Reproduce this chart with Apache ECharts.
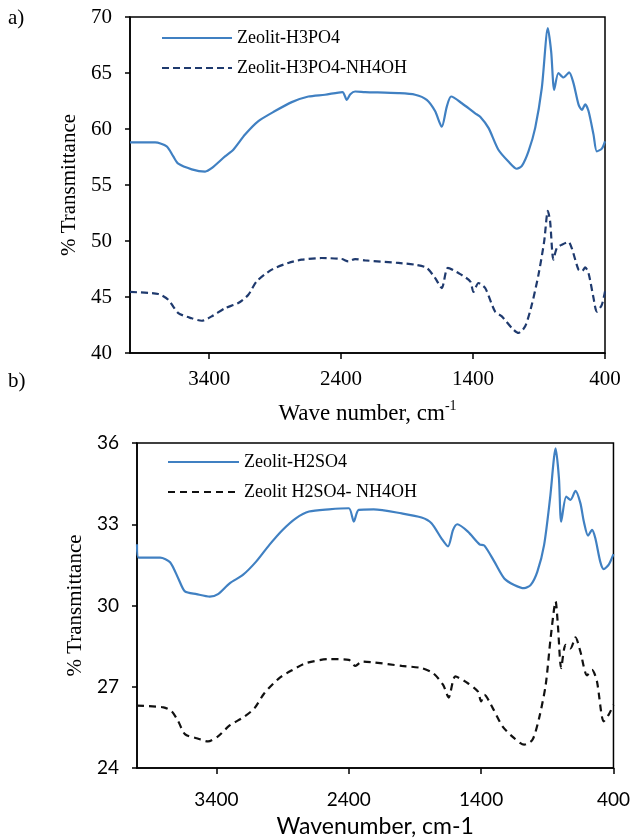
<!DOCTYPE html>
<html>
<head>
<meta charset="utf-8">
<script src="https://cdn.jsdelivr.net/npm/echarts@6/dist/echarts.min.js"></script>
<style>
  html, body { margin: 0; padding: 0; background: #fff; }
  #chart { width: 633px; height: 840px; }
</style>
</head>
<body>
<div id="chart"></div>
<script>
// ---- Tick labels ----
const xTicks = [400, 1400, 2400, 3400];

// ---- Panel a) ----
const seriesNameA1 = 'Zeolit-H3PO4';
const seriesNameA2 = 'Zeolit-H3PO4-NH4OH';
const wnA1 = [4000,3810,3722,3672,3634,3532,3431,3381,3280,3217,3128,3027,2901,2774,2648,2522,2390,2357,2330,2294,2218,1966,1839,1751,1688,1637,1599,1566,1485,1384,1346,1283,1208,1132,1068,1030,980,929,879,833,808,785,753,715,672,639,601,575,550,525,487,462,424,400];
const tA1 = [58.8,58.8,58.45,57.55,56.9,56.4,56.2,56.5,57.55,58.15,59.5,60.7,61.6,62.4,62.9,63.06,63.3,62.6,63.1,63.35,63.3,63.2,63.06,62.6,61.6,60.2,62.0,62.9,62.3,61.4,61.1,60.1,58.15,57.1,56.45,56.7,58.0,60.1,63.66,69.0,66.9,63.5,65.0,64.6,65.05,64.1,62.2,61.7,62.2,61.6,59.5,58.0,58.25,58.9];
const wnA2 = [4000,3785,3710,3634,3532,3456,3381,3280,3179,3103,3040,2926,2800,2698,2547,2395,2345,2294,2218,1966,1839,1751,1688,1637,1591,1511,1422,1397,1359,1308,1233,1182,1106,1056,1005,955,904,861,833,816,791,765,727,677,652,601,575,550,525,487,462,424,400];
const tA2 = [45.45,45.27,44.76,43.57,43.1,42.88,43.27,44.0,44.46,45.2,46.4,47.44,48.04,48.33,48.48,48.39,48.18,48.39,48.27,48.04,47.88,47.6,46.7,45.8,47.6,47.14,46.4,45.45,46.25,45.8,43.7,43.27,42.23,41.79,42.38,44.3,47.0,49.96,52.7,51.75,48.33,49.37,49.67,49.9,49.37,47.44,47.3,47.64,47.14,44.91,43.7,44.3,45.5];

// ---- Panel b) ----
const seriesNameB1 = 'Zeolit-H2SO4';
const seriesNameB2 = 'Zeolit H2SO4- NH4OH';
const wnB1 = [4000,3988,3825,3750,3688,3638,3550,3450,3388,3300,3200,3100,3000,2900,2800,2700,2550,2400,2362,2325,2212,2000,1850,1775,1700,1650,1612,1580,1500,1412,1375,1300,1225,1150,1075,1025,975,924,879,837,812,795,757,725,687,650,624,592,562,537,500,474,437,400];
const tB1 = [32.26,31.77,31.77,31.6,31.0,30.52,30.42,30.33,30.42,30.82,31.13,31.62,32.24,32.79,33.22,33.47,33.55,33.59,33.1,33.53,33.55,33.4,33.25,33.04,32.48,32.18,32.79,33.0,32.73,32.26,32.21,31.62,31.0,30.76,30.64,30.76,31.25,32.24,33.96,35.8,34.7,33.1,34.02,33.9,34.23,33.78,33.1,32.58,32.79,32.48,31.62,31.34,31.5,31.9];
const wnB2 = [4000,3800,3737,3688,3638,3550,3463,3388,3300,3188,3112,3038,2925,2825,2725,2550,2400,2350,2300,2212,2000,1850,1762,1687,1645,1595,1500,1425,1400,1375,1312,1237,1150,1075,1012,962,912,875,837,820,795,762,725,687,650,600,562,525,474,437,400];
const tB2 = [26.3,26.24,26.09,25.72,25.25,25.1,24.98,25.17,25.57,25.9,26.21,26.76,27.32,27.62,27.87,28.02,27.99,27.77,27.93,27.9,27.77,27.69,27.5,27.07,26.6,27.38,27.13,26.83,26.46,26.7,26.21,25.53,25.1,24.86,25.04,25.84,27.07,28.79,30.15,29.28,27.69,28.55,28.42,28.82,28.3,27.42,27.62,27.2,25.72,25.96,26.33];

function zip(xs, ys) {
  const n = Math.min(xs.length, ys.length);
  const out = [];
  for (let i = 0; i < n; i++) out.push([xs[i], ys[i]]);
  return out;
}

const SERIF = 'Liberation Serif';
const SANS = 'Lato';
const BLUE = '#4080c2';
const NAVY = '#1f3a6e';

const chart = echarts.init(document.getElementById('chart'), null, { renderer: 'canvas' });

function xAxisCfg(gridIndex, font, fontSize, margin, name, nameGap, nameStyle) {
  return {
    gridIndex, type: 'value', min: 400, max: 4000, inverse: true,
    axisLine: { show: true, onZero: false, lineStyle: { color: '#000', width: 1.5 } },
    axisTick: { show: true, customValues: xTicks, length: 6, lineStyle: { color: '#000', width: 1.5 } },
    axisLabel: { customValues: xTicks, formatter: v => String(v), color: '#000', fontFamily: font, fontSize, margin },
    splitLine: { show: false },
    name, nameLocation: 'middle', nameGap, nameTextStyle: nameStyle
  };
}
function yAxisCfg(gridIndex, min, max, interval, font, fontSize) {
  return {
    gridIndex, type: 'value', min, max, interval,
    axisLine: { show: true, onZero: false, lineStyle: { color: '#000', width: 1.5 } },
    axisTick: { show: true, length: 5, lineStyle: { color: '#000', width: 1.5 } },
    axisLabel: { formatter: v => String(v), color: '#000', fontFamily: font, fontSize, margin: 18 },
    splitLine: { show: false },
    name: '% Transmittance', nameLocation: 'middle', nameGap: 48,
    nameTextStyle: { color: '#000', fontFamily: SERIF, fontSize: 21 }
  };
}

const legendCommon = {
  orient: 'vertical', padding: 0, itemHeight: 18, itemGap: 12,
  itemStyle: { opacity: 0 },
  textStyle: { color: '#000', fontFamily: SERIF, fontSize: 18, lineHeight: 18 }
};

const option = {
  animation: false,
  backgroundColor: '#fff',
  grid: [
    { left: 130, top: 17, width: 475, height: 336, show: true, borderColor: '#000', borderWidth: 1.5, backgroundColor: 'transparent' },
    { left: 137, top: 443, width: 478, height: 325, show: true, borderColor: '#000', borderWidth: 1.5, backgroundColor: 'transparent' }
  ],
  xAxis: [
    xAxisCfg(0, SERIF, 21, 16, '{m|Wave number, cm}{s|-1}', 46, {
      color: '#000',
      rich: {
        m: { fontFamily: SERIF, fontSize: 23, color: '#000', lineHeight: 26, verticalAlign: 'bottom' },
        s: { fontFamily: SERIF, fontSize: 14, color: '#000', lineHeight: 15, verticalAlign: 'top' }
      }
    }),
    xAxisCfg(1, SANS, 19, 22, 'Wavenumber, cm-1', 47, { color: '#000', fontFamily: SANS, fontSize: 23 })
  ],
  yAxis: [
    yAxisCfg(0, 40, 70, 5, SERIF, 21),
    yAxisCfg(1, 24, 36, 3, SANS, 19)
  ],
  legend: [
    Object.assign({ data: [seriesNameA1, seriesNameA2], left: 161, top: 29, itemWidth: 70 }, legendCommon),
    Object.assign({ data: [seriesNameB1, seriesNameB2], left: 167, top: 453, itemWidth: 71 }, legendCommon)
  ],
  graphic: [
    { type: 'text', left: 8, top: 8, style: { text: 'a)', fontFamily: SERIF, fontSize: 21, fill: '#000' } },
    { type: 'text', left: 8, top: 371, style: { text: 'b)', fontFamily: SERIF, fontSize: 21, fill: '#000' } }
  ],
  series: [
    { name: seriesNameA1, type: 'line', xAxisIndex: 0, yAxisIndex: 0, data: zip(wnA1, tA1), symbol: 'none', smooth: 0.25,
      lineStyle: { color: BLUE, width: 2.2 }, itemStyle: { color: BLUE } },
    { name: seriesNameA2, type: 'line', xAxisIndex: 0, yAxisIndex: 0, data: zip(wnA2, tA2), symbol: 'none', smooth: 0.25,
      lineStyle: { color: NAVY, width: 2.2, type: [7, 4] }, itemStyle: { color: NAVY } },
    { name: seriesNameB1, type: 'line', xAxisIndex: 1, yAxisIndex: 1, data: zip(wnB1, tB1), symbol: 'none', smooth: 0.25,
      lineStyle: { color: BLUE, width: 2.2 }, itemStyle: { color: BLUE } },
    { name: seriesNameB2, type: 'line', xAxisIndex: 1, yAxisIndex: 1, data: zip(wnB2, tB2), symbol: 'none', smooth: 0.25,
      lineStyle: { color: '#111', width: 2.2, type: [7, 5] }, itemStyle: { color: '#111' } }
  ]
};
chart.setOption(option);
</script>
</body>
</html>
